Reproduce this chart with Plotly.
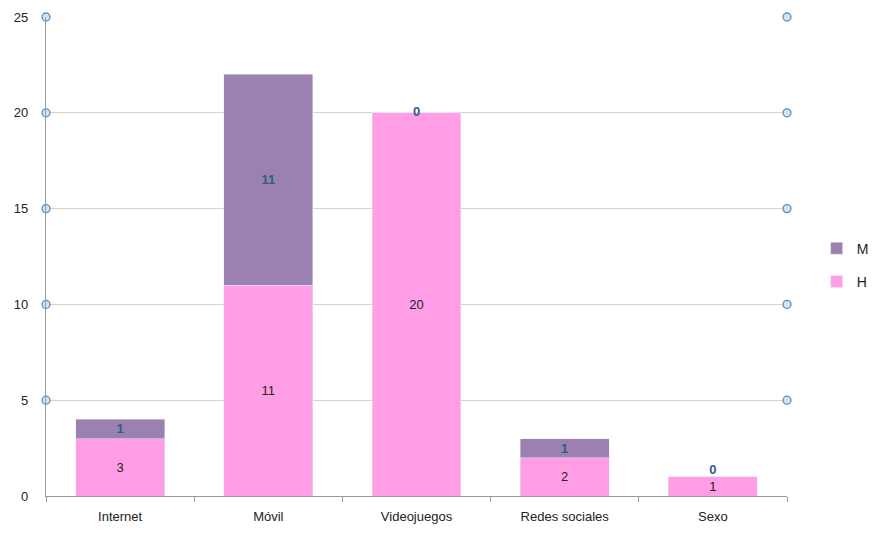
from plotly import graph_objects as go

categories = ["Internet", "Móvil", "Videojuegos", "Redes sociales", "Sexo"]
h_values = [3, 11, 20, 2, 1]
m_values = [1, 11, 0, 1, 0]
y_ticks = [0, 5, 10, 15, 20, 25]

colors = {"H": "#FF9EE6", "M": "#9A81B1"}
font = "Liberation Sans, Arial, sans-serif"
m_label_color = "#2F5C8A"

figure = go.Figure()

figure.add_trace(
    go.Bar(
        name="H",
        legendgroup="H",
        legendrank=2,
        x=categories,
        y=h_values,
        marker_color=colors["H"],
        text=h_values,
        textposition="inside",
        insidetextanchor="middle",
        textangle=0,
        constraintext="none",
        textfont=dict(color="#222222", size=13, family=font),
        cliponaxis=False,
    )
)
figure.add_trace(
    go.Bar(
        name="M",
        legendgroup="M",
        legendrank=1,
        x=categories,
        y=m_values,
        marker_color=colors["M"],
        text=[f"<b>{v}</b>" for v in m_values],
        textposition=["inside" if v else "none" for v in m_values],
        insidetextanchor="middle",
        textangle=0,
        constraintext="none",
        textfont=dict(color=m_label_color, size=13, family=font),
        cliponaxis=False,
    )
)

# zero-height M segments still get their label at the stack top
# (lifted a bit when the H bar is too short to hold both labels)
zero_idx = [i for i, v in enumerate(m_values) if v == 0]
figure.add_trace(
    go.Scatter(
        x=[categories[i] for i in zero_idx],
        y=[h_values[i] + m_values[i] for i in zero_idx],
        text=[f"<b>{m_values[i]}</b>" for i in zero_idx],
        mode="text",
        textposition=[
            "top center" if h_values[i] < 2 else "middle center" for i in zero_idx
        ],
        textfont=dict(color=m_label_color, size=13, family=font),
        showlegend=False,
        hoverinfo="skip",
        cliponaxis=False,
    )
)

# little circle markers Excel leaves on both edges of the gridlines
edge_ticks = [t for t in y_ticks if t > 0]
for edge in (0, 1):
    figure.add_trace(
        go.Scatter(
            x=[edge] * len(edge_ticks),
            y=edge_ticks,
            xaxis="x2",
            mode="markers",
            marker=dict(
                size=8,
                color="#CFE6F2",
                line=dict(color="#5B8FC2", width=1.3),
            ),
            showlegend=False,
            hoverinfo="skip",
            cliponaxis=False,
        )
    )

# page body adds an 8px offset, so margins are shifted by 8px
figure.update_layout(
    barmode="stack",
    bargap=0.4,
    width=876,
    height=533,
    margin=dict(l=38, r=97, t=9, b=45, autoexpand=False),
    plot_bgcolor="white",
    paper_bgcolor="white",
    font=dict(family=font, size=13, color="#404040"),
    legend=dict(
        x=1.04,
        y=0.482,
        xanchor="left",
        yanchor="middle",
        traceorder="grouped",
        font=dict(size=14, color="#222222"),
        itemwidth=30,
        tracegroupgap=12,
    ),
    xaxis=dict(
        automargin=False,
        showline=True,
        linecolor="#9A9A9A",
        linewidth=1.3,
        ticks="outside",
        tickson="boundaries",
        ticklen=5,
        tickcolor="#9A9A9A",
        ticklabelstandoff=8,
        tickfont=dict(size=13, color="#222222"),
    ),
    xaxis2=dict(
        overlaying="x",
        range=[0, 1],
        visible=False,
    ),
    yaxis=dict(
        automargin=False,
        range=[0, 25],
        tickvals=y_ticks,
        showgrid=True,
        gridcolor="#D3D3D3",
        gridwidth=1.3,
        showline=True,
        linecolor="#9A9A9A",
        linewidth=1.3,
        zeroline=False,
        ticks="",
        ticklabelstandoff=14,
        tickfont=dict(size=13, color="#222222"),
    ),
)

figure.write_html("out.html")
